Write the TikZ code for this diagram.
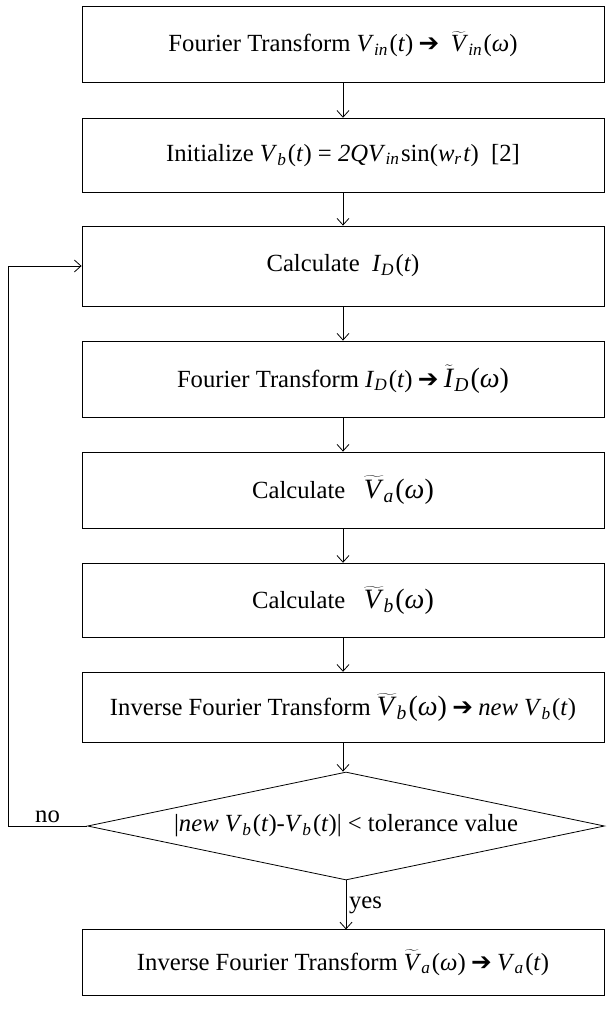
\documentclass[tikz,border=0pt]{standalone}
\usepackage{fontspec}
\setmainfont{Liberation Serif}
\newfontfamily\arrowfont{DejaVu Sans}
\usetikzlibrary{shapes.geometric,arrows.meta}
\tikzset{
  stepbox/.style={draw,line width=0.6pt,minimum width=391.5pt,minimum height=57pt,inner sep=0pt,font=\fontsize{18.5}{22}\selectfont},
  testbox/.style={draw,diamond,line width=0.6pt,minimum width=387.75pt,minimum height=81pt,inner sep=0pt,shape aspect=4.8,font=\fontsize{18.5}{22}\selectfont},
  flow/.style={-{Straight Barb[length=5pt,width=9pt,line width=0.6pt]},line width=0.6pt},
  tag/.style={font=\fontsize{18.5}{22}\selectfont,inner sep=2pt},
}
\newcommand{\var}[1]{\textit{#1}}
\newcommand{\lo}[1]{\textsubscript{\textit{#1}}\kern1pt}
\newcommand{\tld}[1]{$\widetilde{\hbox{\textit{#1}}}$}
\newcommand{\wbig}[1]{{\fontsize{21}{22}\selectfont #1}}
\newcommand{\tto}{\kern4pt{\arrowfont\bfseries ➔}\kern4pt}
\begin{document}
\begin{tikzpicture}[x=0.75pt,y=-0.75pt]
\useasboundingbox (0,0) rectangle (609,1021);
% boxes of the iteration
\node[stepbox] (ft) at (343,44) {Fourier Transform \var{V}\lo{in}(\var{t})\tto\ \tld{V}\lo{in}(\var{ω})};
\node[stepbox,minimum height=56pt] (init) at (343,155.5) {Initialize \var{V}\lo{b}(\var{t}) = \var{2QV}\lo{in}sin(\var{w}\lo{r}\var{t})~~[2]};
\node[stepbox,minimum height=60pt] (id) at (343,266) {Calculate~~\var{I}\lo{D}(\var{t})};
\node[stepbox] (ftid) at (343,379) {Fourier Transform \var{I}\lo{D}(\var{t})\tto\wbig{\tld{I}\lo{D}(\var{ω})}};
\node[stepbox] (va) at (343,490) {Calculate~~~\wbig{\tld{V}\lo{a}(\var{ω})}};
\node[stepbox,minimum height=56pt] (vb) at (343,600.5) {Calculate~~~\wbig{\tld{V}\lo{b}(\var{ω})}};
\node[stepbox,minimum height=53pt] (ifft) at (343,707.5) {Inverse Fourier Transform \wbig{\tld{V}\lo{b}(\var{ω})}\tto\var{new V}\lo{b}(\var{t})};
\node[testbox] (tol) at (346,826) {|\var{new V}\lo{b}(\var{t})-\var{V}\lo{b}(\var{t})| < tolerance value};
\node[stepbox,minimum height=49pt] (res) at (343,962.5) {Inverse Fourier Transform \tld{V}\lo{a}(\var{ω})\tto\var{V}\lo{a}(\var{t})};
\coordinate (back) at (8,826);
% connectors
\foreach \a/\b in {ft/init,init/id,id/ftid,ftid/va,va/vb,vb/ifft,ifft/tol}
\draw[flow] (\a.south) -- (\b.north -| \a.south);
\draw[flow] (tol.south) -- node[tag,right] {yes} (res.north -| tol.south);
\draw[flow] (tol.west) -- node[tag,above] {no} (back) |- (id.west);
\end{tikzpicture}
\end{document}
